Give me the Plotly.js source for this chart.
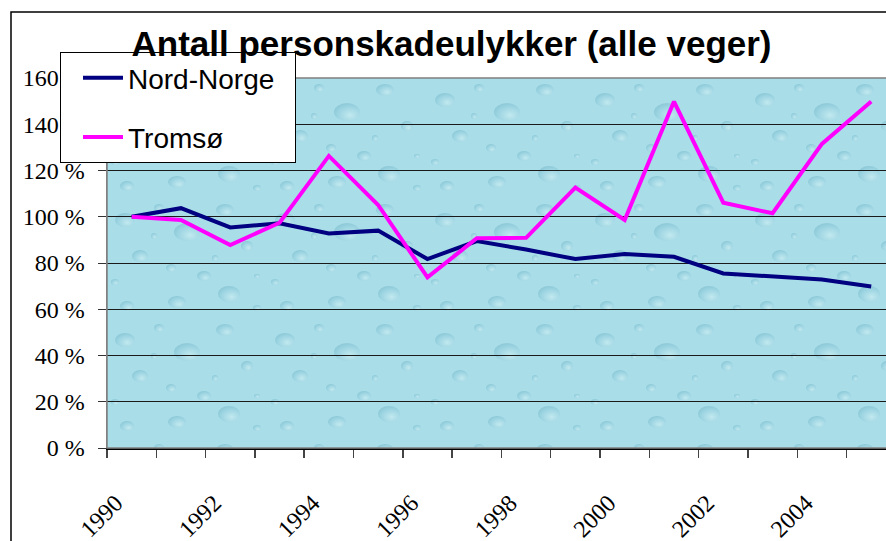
<!DOCTYPE html>
<html>
<head>
<meta charset="utf-8">
<script src="https://cdn.plot.ly/plotly-3.0.1.min.js"></script>
<style>
  html, body { margin: 0; padding: 0; background: #ffffff; }
  #chart { width: 886px; height: 541px; }
</style>
</head>
<body>
<div id="chart"></div>
<script>
// Years (categories)
var years = [1990, 1991, 1992, 1993, 1994, 1995, 1996, 1997, 1998, 1999, 2000, 2001, 2002, 2003, 2004, 2005];
// Index, 1990 = 100 %
var nordNorge = [100, 103.7, 95.4, 97.2, 92.8, 94.0, 81.7, 89.5, 85.8, 81.7, 83.9, 82.7, 75.5, 74.0, 72.9, 69.8];
var tromso    = [100, 98.6, 87.8, 97.4, 126.3, 105.1, 73.8, 90.7, 90.9, 112.6, 98.6, 149.8, 106.1, 101.5, 131.5, 149.8];
// Labels
var seriesNames = ["Nord-Norge", "Tromsø"];
var xTickVals = [1990, 1992, 1994, 1996, 1998, 2000, 2002, 2004];
var xTickText = ["1990", "1992", "1994", "1996", "1998", "2000", "2002", "2004"];
var yTickVals = [0, 20, 40, 60, 80, 100, 120, 140, 160];
var yTickText = ["0 %", "20 %", "40 %", "60 %", "80 %", "100 %", "120 %", "140 %", "160 %"];
var chartTitle = "Antall personskadeulykker (alle veger)";

var serif = "'Times New Roman', 'Liberation Serif', serif";
var sans = "Liberation Sans";

// decorative water-drop texture for the plot area (pure styling)
var drops = '' +
  '<ellipse cx="18" cy="22" rx="10" ry="7"/><ellipse cx="52" cy="10" rx="5" ry="4"/>' +
  '<ellipse cx="80" cy="34" rx="13" ry="9"/><ellipse cx="33" cy="58" rx="8" ry="6"/>' +
  '<ellipse cx="64" cy="70" rx="5" ry="4"/><ellipse cx="97" cy="78" rx="7" ry="5"/>' +
  '<ellipse cx="8" cy="84" rx="4" ry="3"/><ellipse cx="47" cy="38" rx="3" ry="3"/>' +
  '<ellipse cx="118" cy="12" rx="9" ry="6"/><ellipse cx="140" cy="48" rx="6" ry="5"/>' +
  '<ellipse cx="122" cy="96" rx="11" ry="8"/><ellipse cx="150" cy="110" rx="4" ry="3"/>' +
  '<ellipse cx="20" cy="108" rx="7" ry="5"/><ellipse cx="70" cy="104" rx="9" ry="6"/>' +
  '<ellipse cx="108" cy="60" rx="3" ry="3"/><ellipse cx="150" cy="78" rx="3" ry="2"/>';
var tileSvg =
  '<svg xmlns="http://www.w3.org/2000/svg" width="779" height="370">' +
  '<defs>' +
  '<radialGradient id="g" cx="0.62" cy="0.68" r="0.65">' +
  '<stop offset="0" stop-color="#d6f3f7" stop-opacity="0.55"/>' +
  '<stop offset="0.75" stop-color="#8ecbda" stop-opacity="0.5"/>' +
  '<stop offset="1" stop-color="#72b5c8" stop-opacity="0.45"/>' +
  '</radialGradient>' +
  '<pattern id="p" width="160" height="120" patternUnits="userSpaceOnUse">' +
  '<g fill="url(#g)">' + drops + '</g>' +
  '</pattern>' +
  '</defs>' +
  '<rect width="779" height="370" fill="url(#p)"/>' +
  '</svg>';
var textureUri = "data:image/svg+xml;charset=utf-8," + encodeURIComponent(tileSvg);

var traces = [
  { x: years, y: nordNorge, name: seriesNames[0] + "\u00a0\u00a0", type: "scatter", mode: "lines",
    legendgroup: "a", line: { color: "#000080", width: 4 } },
  { x: years, y: tromso, name: seriesNames[1], type: "scatter", mode: "lines",
    legendgroup: "b", line: { color: "#FF00FF", width: 4 } }
];

var layout = {
  width: 886, height: 541,
  margin: { l: 107, r: 0, t: 78, b: 93, pad: 0 },
  font: { family: serif, size: 24, color: "#000000" },
  paper_bgcolor: "#ffffff",
  plot_bgcolor: "#a9dde8",
  title: {
    text: "<b>" + chartTitle + "</b>",
    font: { family: sans, size: 35, color: "#000000" },
    x: 451.5 / 886, xanchor: "center", xref: "container",
    y: 1 - 43.5 / 541, yanchor: "middle", yref: "container"
  },
  xaxis: {
    type: "linear",
    range: [1989.5, 2005.3],
    tickmode: "array", tickvals: xTickVals, ticktext: xTickText,
    tickangle: -45,
    ticks: "", ticklabelstandoff: 30, ticklabelshift: -16,
    tickfont: { family: serif, size: 24, color: "#000000" },
    showgrid: false, zeroline: false,
    showline: true, linecolor: "#000000", linewidth: 1.5,
    minor: { tick0: 1989.5, dtick: 1, ticks: "outside", ticklen: 8, tickwidth: 1.5, tickcolor: "#444444", showgrid: false }
  },
  yaxis: {
    range: [0, 160],
    tickmode: "array", tickvals: yTickVals, ticktext: yTickText,
    ticks: "outside", ticklen: 8, tickwidth: 1, tickcolor: "#333333",
    ticklabelstandoff: 8,
    tickfont: { family: serif, size: 24, color: "#000000" },
    showgrid: true, gridcolor: "#1a1a1a", gridwidth: 1,
    zeroline: false,
    showline: true, linecolor: "#808080", linewidth: 1.5
  },
  images: [
    { source: textureUri, xref: "paper", yref: "paper", x: 0, y: 1, sizex: 1, sizey: 1,
      xanchor: "left", yanchor: "top", sizing: "stretch", layer: "below", opacity: 1 }
  ],
  showlegend: true,
  legend: {
    x: (60 - 107) / 779, xanchor: "left",
    y: (448 - 52) / 370, yanchor: "top",
    bgcolor: "#ffffff", bordercolor: "#000000", borderwidth: 1,
    font: { family: sans, size: 28, color: "#000000" },
    itemwidth: 40, indentation: 17, tracegroupgap: 20, traceorder: "grouped"
  },
  shapes: [
    { type: "rect", xref: "paper", yref: "paper", x0: 0, x1: 1.2, y0: 0, y1: 1,
      line: { color: "#808080", width: 1.5 }, fillcolor: "rgba(0,0,0,0)", layer: "above" },
    { type: "rect", xref: "paper", yref: "paper", x0: (11 - 107) / 779, x1: 1.3, y0: -0.5, y1: (448 - 12) / 370,
      line: { color: "#000000", width: 1.5 }, fillcolor: "rgba(0,0,0,0)", layer: "below" }
  ]
};

Plotly.newPlot("chart", traces, layout, { displayModeBar: false, staticPlot: true });
</script>
</body>
</html>
